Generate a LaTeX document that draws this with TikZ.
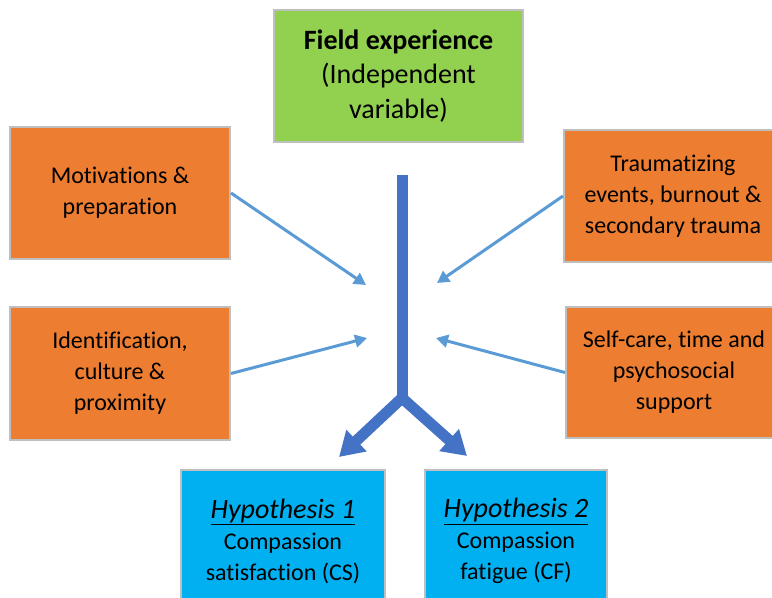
\documentclass[tikz,border=0pt]{standalone}
\usepackage{fontspec}
\setmainfont{Carlito}[Ligatures=NoCommon]
\usetikzlibrary{arrows.meta}
\definecolor{fieldgreen}{HTML}{92D050}
\definecolor{factororange}{HTML}{ED7D31}
\definecolor{hypblue}{HTML}{00B0F0}
\definecolor{boxline}{HTML}{BFBFBF}
\definecolor{stemblue}{HTML}{4472C4}
\definecolor{feedblue}{HTML}{5B9BD5}
\newcommand{\hyptitle}[1]{{\fontsize{21}{26}\selectfont\underline{\textit{#1}}}}
\begin{document}
\begin{tikzpicture}[x=0.75pt,y=-0.75pt,
  box/.style={draw=boxline, line width=1.5pt, inner sep=0pt, align=center,
    font=\fontsize{18}{23.25}\selectfont},
  field/.style={box, fill=fieldgreen, font=\fontsize{21}{26}\selectfont},
  factor/.style={box, fill=factororange},
  hyp/.style={box, fill=hypblue},
  feed/.style={draw=feedblue, line width=2.25pt,
    -{Triangle[length=9pt,width=9.5pt]}},
  stem/.style={draw=stemblue, line width=8.25pt},
  fork/.style={draw=stemblue, line width=8.25pt, line join=round,
    {Triangle[length=18pt,width=21pt]}-{Triangle[length=18pt,width=21pt]}}
]
\useasboundingbox (0,0) rectangle (772,598);
\clip (0,0) rectangle (772,598);

% independent variable
\node[field, minimum width={249*0.75pt}, minimum height={132*0.75pt}] (fieldexp) at (398.5,76)
  {\textbf{Field experience}\\(Independent\\variable)};

% factors on the left
\node[factor, minimum width={220*0.75pt}, minimum height={132*0.75pt}] (motiv) at (120,193)
  {Motivations \&\\preparation};
\node[factor, minimum width={220*0.75pt}, minimum height={133*0.75pt}] (ident) at (120,373.5)
  {Identification,\\culture \&\\proximity};

% factors on the right
\node[factor, minimum width={218*0.75pt}, minimum height={132*0.75pt}] (trauma) at (673,196)
  {Traumatizing\\events, burnout \&\\secondary trauma};
\node[factor, minimum width={216*0.75pt}, minimum height={131*0.75pt}] (selfcare) at (674,372.5)
  {Self-care, time and\\psychosocial\\support};

% hypotheses
\node[hyp, minimum width={204*0.75pt}, minimum height={142*0.75pt}] (hypone) at (283,541)
  {\hyptitle{Hypothesis 1}\\Compassion\\satisfaction (CS)};
\node[hyp, minimum width={182*0.75pt}, minimum height={142*0.75pt}] (hyptwo) at (516,541)
  {\hyptitle{Hypothesis 2}\\Compassion\\fatigue (CF)};

% central stem and fork
\coordinate (stemtop) at (402,175);
\coordinate (joint) at (402,398);
\coordinate (tipone) at (339,457);
\coordinate (tiptwo) at (467,456);
\draw[stem] (stemtop) -- (402,400);
\draw[fork] (tipone) -- (joint) -- (tiptwo);

% influences feeding the stem
\coordinate (inmotiv) at (366,285);
\coordinate (inident) at (367,338);
\coordinate (intrauma) at (437,283);
\coordinate (inself) at (436,338);
\draw[feed] (motiv.east) -- (inmotiv);
\draw[feed] (ident.east) -- (inident);
\draw[feed] (trauma.west) -- (intrauma);
\draw[feed] (selfcare.west) -- (inself);
\end{tikzpicture}
\end{document}
